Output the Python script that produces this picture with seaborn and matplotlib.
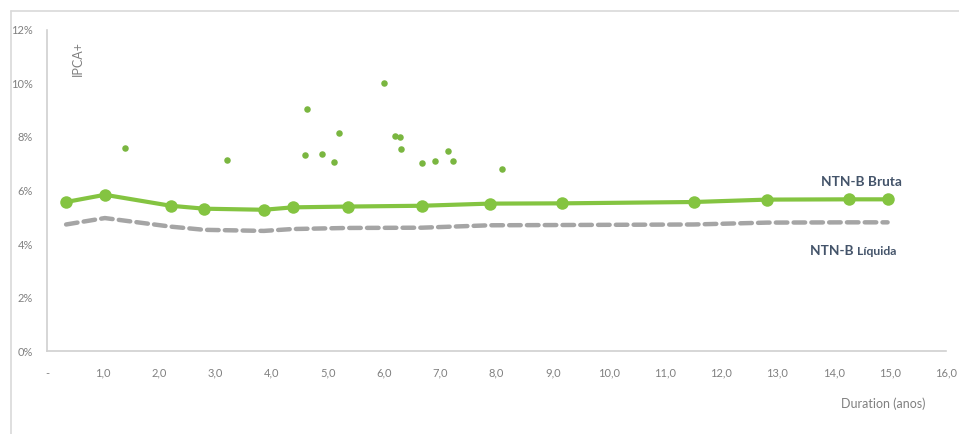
import numpy as np
import pandas as pd
import seaborn as sns
import matplotlib.pyplot as plt
from matplotlib.lines import Line2D

# curva NTN-B (duration em anos, taxa em %)
duration = [0.34, 1.03, 2.20, 2.80, 3.86, 4.37, 5.35, 6.67, 7.88, 9.17, 11.51, 12.82, 14.28, 14.96]
bruta = [5.57, 5.84, 5.43, 5.32, 5.28, 5.37, 5.40, 5.43, 5.51, 5.52, 5.57, 5.66, 5.67, 5.67]
liquida = [4.73, 4.97, 4.65, 4.53, 4.49, 4.56, 4.60, 4.61, 4.70, 4.71, 4.73, 4.80, 4.81, 4.81]

# debentures IPCA+
deb_duration = [1.39, 3.20, 4.62, 4.60, 4.90, 5.11, 5.20, 6.00, 6.20, 6.28, 6.30, 6.68, 6.90, 7.13, 7.23, 8.09]
deb_taxa = [7.59, 7.14, 9.03, 7.31, 7.38, 7.07, 8.16, 10.03, 8.05, 8.01, 7.55, 7.03, 7.10, 7.46, 7.11, 6.82]

x_ticks = list(range(0, 17))
x_labels = ['-'] + [f'{v},0' for v in range(1, 17)]
y_ticks = [0, 2, 4, 6, 8, 10, 12]
y_labels = [f'{v}%' for v in y_ticks]

curva = pd.DataFrame({'duration': duration, 'bruta': bruta, 'liquida': liquida})
debs = pd.DataFrame({'duration': deb_duration, 'taxa': deb_taxa})

sns.set_style('white')
plt.rcParams['font.family'] = ['Lato', 'DejaVu Sans']

fig = plt.figure(figsize=(9.59, 4.34), dpi=100)
ax = fig.add_axes([0.049, 0.1912, 0.9375, 0.7397])

verde = '#84C441'
cinza = '#A5A5A5'
texto = '#44546A'

sns.lineplot(data=curva, x='duration', y='liquida', ax=ax, color=cinza,
             linewidth=3.2, dashes=False, zorder=2)
ax.lines[-1].set_dashes([2.6, 1.4])
ax.lines[-1].set_dash_capstyle('round')
sns.lineplot(data=curva, x='duration', y='bruta', ax=ax, color=verde,
             linewidth=3, marker='o', markersize=9, markeredgewidth=0, zorder=3)
sns.scatterplot(data=debs, x='duration', y='taxa', ax=ax, color='#7AB640',
                s=22, linewidth=0, zorder=4)

ax.set_xlim(0, 16)
ax.set_ylim(0, 12)
ax.set_xticks(x_ticks)
ax.set_xticklabels(x_labels)
ax.set_yticks(y_ticks)
ax.set_yticklabels(y_labels)
ax.tick_params(axis='both', length=0, labelsize=8, colors='#808080')
ax.tick_params(axis='x', pad=12)
ax.tick_params(axis='y', pad=10)
ax.set_xlabel('')
ax.set_ylabel('')

for s in ['top', 'right']:
    ax.spines[s].set_visible(False)
for s in ['left', 'bottom']:
    ax.spines[s].set_color('#D0D0D0')
    ax.spines[s].set_linewidth(1.2)

ax.text(0.55, 10.95, 'IPCA+', rotation=90, fontsize=9, color='#808080',
        ha='center', va='center')
ax.text(14.5, 6.33, 'NTN-B Bruta', fontsize=9.8, fontweight='bold', color=texto,
        ha='center', va='center')
ax.text(14.42, 3.6, 'NTN-B ', fontsize=9.8, fontweight='bold', color=texto,
        ha='right', va='baseline')
ax.text(14.42, 3.6, 'Líquida', fontsize=8.8, fontweight='bold', color=texto,
        ha='left', va='baseline')

fig.text(883 / 959, 1 - 404 / 434, 'Duration (anos)', fontsize=9, color='#808080',
         ha='center', va='center')

# moldura
fig.add_artist(Line2D([11 / 959, 1], [1 - 10.5 / 434, 1 - 10.5 / 434],
                      transform=fig.transFigure, color='#D9D9D9', linewidth=1.2))
fig.add_artist(Line2D([11 / 959, 11 / 959], [0, 1 - 10.5 / 434],
                      transform=fig.transFigure, color='#D9D9D9', linewidth=1.2))

fig.savefig('out.png', dpi=100)
